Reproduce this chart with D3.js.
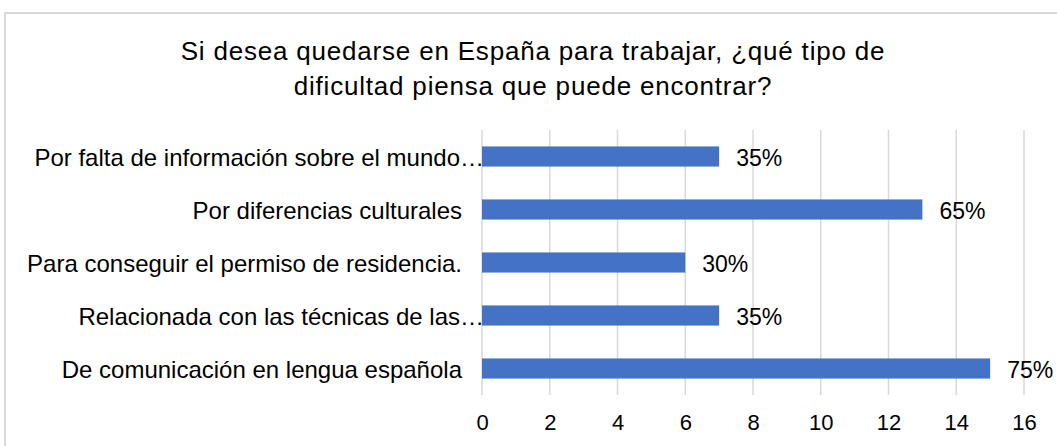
<!DOCTYPE html>
<html><head><meta charset="utf-8">
<script src="https://cdn.jsdelivr.net/npm/d3@7"></script>
<style>body{margin:0;background:#fff;} text{font-family:"Liberation Sans",Arial,sans-serif;fill:#000;}</style>
</head><body>
<svg id="c" width="1057" height="446"></svg>
<script>
const titleLines = ["Si desea quedarse en España para trabajar, ¿qué tipo de", "dificultad piensa que puede encontrar?"];
const categories = ["Por falta de información sobre el mundo…", "Por diferencias culturales", "Para conseguir el permiso de residencia.", "Relacionada con las técnicas de las…", "De comunicación en lengua española"];
const values = [7, 13, 6, 7, 15];
const valueLabels = ["35%", "65%", "30%", "35%", "75%"];
const xTicks = [0, 2, 4, 6, 8, 10, 12, 14, 16];

const svg = d3.select("#c");
// chart frame
svg.append("rect").attr("x", 5).attr("y", 13).attr("width", 1070).attr("height", 460)
  .attr("fill", "#fff").attr("stroke", "#d9d9d9").attr("stroke-width", 2);

svg.selectAll("text.title").data(titleLines).enter().append("text")
  .attr("class", "title").attr("x", 533).attr("y", (d, i) => 60 + i * 35)
  .attr("text-anchor", "middle").attr("font-size", 26).attr("letter-spacing", 0.8).text(d => d);

const x = d3.scaleLinear().domain([0, 16]).range([482, 1024]);
const y = d3.scaleBand().domain(categories).range([130, 395]).paddingInner(0.62).paddingOuter(0.31);

// gridlines
svg.append("g").selectAll("line").data(xTicks).enter().append("line")
  .attr("x1", d => x(d)).attr("x2", d => x(d)).attr("y1", 130).attr("y2", 395)
  .attr("stroke", "#d9d9d9").attr("stroke-width", 1.5);

// x axis labels
const xAxis = d3.axisBottom(x).tickValues(xTicks).tickSize(0).tickPadding(0);
const gx = svg.append("g").attr("transform", "translate(0,430)").call(xAxis);
gx.select(".domain").remove();
gx.selectAll("text").attr("font-size", 22).attr("font-family", "Liberation Sans, Arial, sans-serif").attr("fill", "#000").attr("dy", "0");

// bars
svg.append("g").selectAll("rect").data(values).enter().append("rect")
  .attr("x", x(0)).attr("y", (d, i) => y(categories[i]))
  .attr("width", d => x(d) - x(0)).attr("height", y.bandwidth())
  .attr("fill", "#4472C4");

// category labels
svg.append("g").selectAll("text").data(categories).enter().append("text")
  .attr("x", d => d.endsWith("…") ? 484 : 462)
  .attr("y", d => y(d) + y.bandwidth() / 2).attr("dy", "0.4em")
  .attr("text-anchor", "end").attr("font-size", 24).text(d => d);

// value labels
svg.append("g").selectAll("text").data(values).enter().append("text")
  .attr("x", d => x(d) + 17).attr("y", (d, i) => y(categories[i]) + y.bandwidth() / 2)
  .attr("dy", "0.4em").attr("font-size", 23).text((d, i) => valueLabels[i]);
</script>
</body></html>
